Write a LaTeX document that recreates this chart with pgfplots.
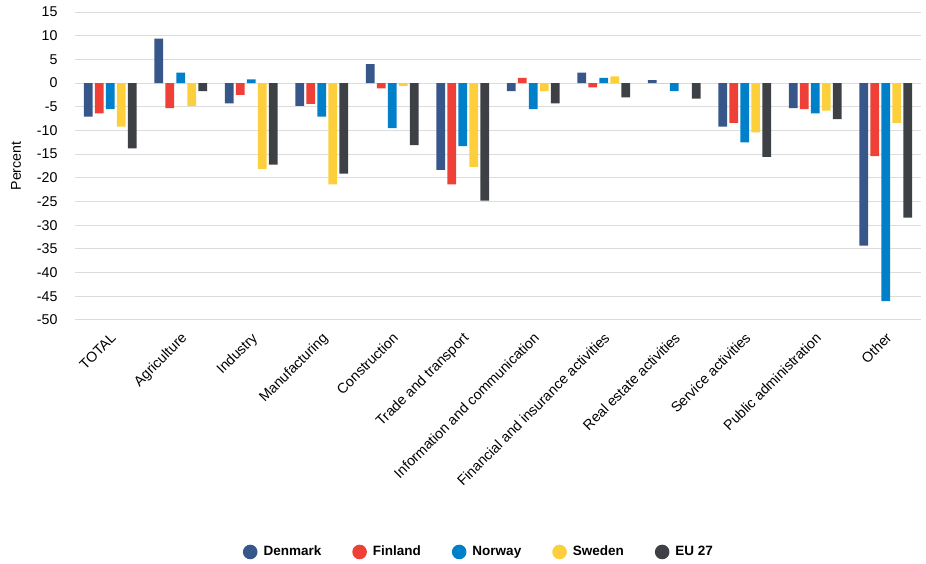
\documentclass[border=0pt]{standalone}
\usepackage{pgfplots}
\usepackage{pgfplotstable}
\usepackage{fontspec}
\setmainfont{Liberation Sans}
\pgfplotsset{compat=1.18}

\definecolor{cDK}{HTML}{37578A}
\definecolor{cFI}{HTML}{EF4038}
\definecolor{cNO}{HTML}{0080C9}
\definecolor{cSE}{HTML}{FDCF3D}
\definecolor{cEU}{HTML}{3D4045}
\definecolor{gridgray}{HTML}{DCDCDC}

\newcommand{\chartfont}{\fontsize{14.2}{17}\selectfont}

% Change by sector, percent
\pgfplotstableread{
x  DK     FI     NO     SE     EU
0  -7.1   -6.4   -5.5   -9.2   -13.8
1   9.4   -5.3    2.2   -4.8    -1.7
2  -4.3   -2.5    0.8  -18.1   -17.2
3  -4.8   -4.4   -7.1  -21.4   -19.1
4   4.0   -1.1   -9.5   -0.6   -13.1
5 -18.3  -21.4  -13.3  -17.7   -24.8
6  -1.7    1.1   -5.5   -1.7    -4.3
7   2.2   -0.9    1.1    1.4    -3.0
8   0.6    0.0   -1.7    0.0    -3.3
9  -9.2   -8.4  -12.5  -10.4   -15.6
10 -5.3   -5.5   -6.4   -5.8    -7.6
11 -34.3 -15.4  -46.0   -8.4   -28.4
}\sectors

\begin{document}
\begin{tikzpicture}
\useasboundingbox (0,0) rectangle (926pt,564pt);
\begin{axis}[
  at={(75pt,244pt)}, anchor=south west,
  scale only axis,
  width=846pt, height=308pt,
  xmin=-0.5, xmax=11.5,
  ymin=-50, ymax=15,
  ytick={-50,-45,...,15},
  xtick={0,...,11},
  xticklabels={TOTAL,Agriculture,Industry,Manufacturing,Construction,Trade and transport,Information and communication,Financial and insurance activities,Real estate activities,Service activities,Public administration,Other},
  ymajorgrids,
  major grid style={gridgray, line width=1pt},
  axis line style={draw=none},
  tick style={draw=none},
  /pgf/number format/assume math mode=true,
  tick label style={font=\chartfont},
  yticklabel style={anchor=east, xshift=-14pt},
  xticklabel style={xshift=-0.5pt, yshift=-2.5pt, rotate=45, anchor=north east},
  ylabel={Percent},
  every axis y label/.style={at={(rel axis cs:0,0.5)}, xshift=-59pt, rotate=90, anchor=center, font=\chartfont},
  ybar=2.3pt, bar width=8.7pt,
  legend columns=-1,
  legend image code/.code={\fill[#1] (7.3pt,0pt) circle (7.3pt);},
  legend style={
    draw=none, fill=none,
    at={(axis description cs:0.4775,-0.7532)}, anchor=center,
    font=\fontsize{13.5}{16}\selectfont\bfseries,
    nodes={text height=10pt, text depth=3pt},
    /tikz/every odd column/.style={column sep=4pt},
    /tikz/every even column/.style={column sep=29pt},
  },
]
\addplot[fill=cDK, draw=none] table[x=x, y=DK] {\sectors};
\addplot[fill=cFI, draw=none] table[x=x, y=FI] {\sectors};
\addplot[fill=cNO, draw=none] table[x=x, y=NO] {\sectors};
\addplot[fill=cSE, draw=none] table[x=x, y=SE] {\sectors};
\addplot[fill=cEU, draw=none] table[x=x, y=EU] {\sectors};
\legend{Denmark, Finland, Norway, Sweden, EU 27}
\end{axis}
\end{tikzpicture}
\end{document}
